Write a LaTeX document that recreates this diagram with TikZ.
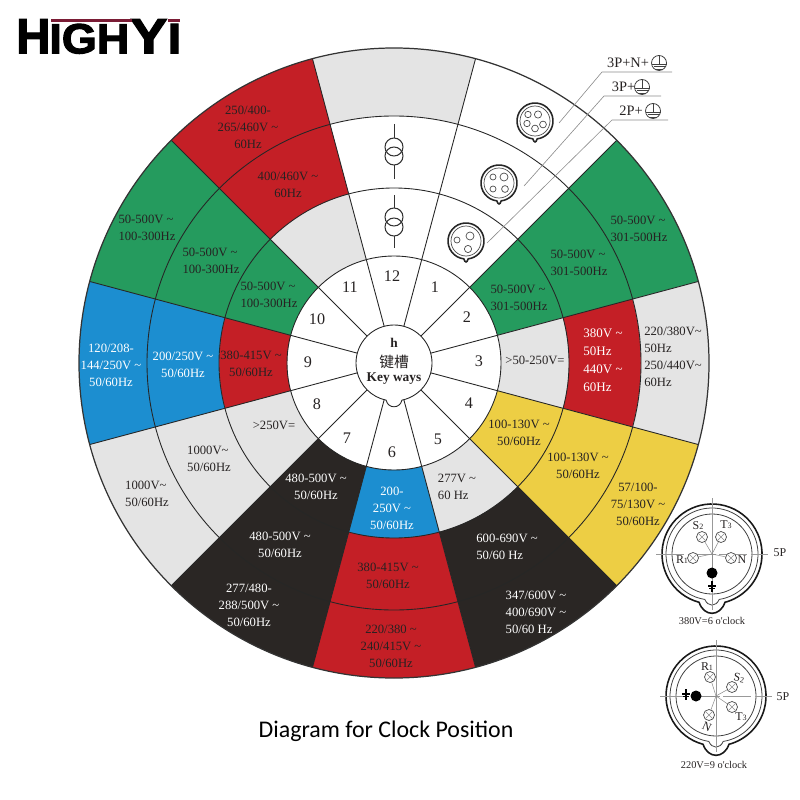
\documentclass[tikz,border=0pt]{standalone}
\usepackage{graphicx}
\usepackage{fontspec}
\setmainfont{Liberation Serif}
\newfontfamily\logofont[BoldFeatures={FakeBold=2.5}]{Liberation Sans}
\newfontfamily\cjkfont{Noto Sans CJK SC}
\newfontfamily\footfont{Carlito}
\definecolor{wheelgreen}{HTML}{259B5E}
\definecolor{wheelred}{HTML}{C41F26}
\definecolor{wheelblue}{HTML}{1C8ED0}
\definecolor{wheelgray}{HTML}{E4E4E4}
\definecolor{wheelyellow}{HTML}{EDCE44}
\definecolor{wheelblack}{HTML}{2A2624}
\definecolor{inkdark}{HTML}{262222}
\definecolor{logomaroon}{HTML}{7A1C35}
\newcommand{\ac}{\textasciitilde}
\newcommand{\tinydigit}[1]{{\fontsize{4.6}{5}\selectfont #1}}
\tikzset{
  lab/.style={font=\fontsize{7.2}{9.7}\selectfont, text=inkdark, inner sep=0pt, align=center},
  lableft/.style={lab, align=left},
  labwhite/.style={lab, text=white},
  labwhiteleft/.style={lableft, text=white},
  numlab/.style={font=\fontsize{9.2}{10}\selectfont, text=inkdark, inner sep=0pt},
  hublab/.style={font=\fontsize{7.6}{10}\bfseries\selectfont, text=inkdark, inner sep=0pt},
  plughead/.style={font=\fontsize{8.2}{10}\selectfont, text=inkdark, inner sep=0pt},
  pluglab/.style={font=\fontsize{6.8}{8}\selectfont, text=inkdark, inner sep=0pt},
  plugcap/.style={font=\fontsize{5.9}{8}\selectfont, text=inkdark, inner sep=0pt},
  wheelline/.style={draw=black!85, line width=.5pt},
  leader/.style={draw=black!45, line width=.35pt},
  crossline/.style={draw=black!40, line width=.35pt},
  logobox/.style={inner sep=0pt, anchor=north west, font=\logofont\bfseries},
}
\begin{document}
\begin{tikzpicture}[x=0.02cm,y=-0.02cm]
\useasboundingbox (0,0) rectangle (800,800);

% logo
\node[logobox] (logoh) at (16,19) {\resizebox{0.68cm}{0.68cm}{H}};
\node[logobox] (logoigh) at (49,23.5) {\resizebox{1.6cm}{0.59cm}{IGH}};
\node[logobox] (logoy) at (130,19) {\resizebox{0.74cm}{0.68cm}{Y}};
\node[logobox] (logoi) at (167.5,23.5) {\resizebox{0.27cm}{0.59cm}{I}};
\fill[logomaroon] (51,19.5) rectangle (132,22.2);
\fill[logomaroon] (168,19.5) rectangle (180,22.2);

% the wheel
\begin{scope}[shift={(394,363)},yscale=-1]
  \foreach \sa/\ra/\rb/\fc in {
    105/247/315/wheelgray,
    45/107/315/wheelgreen,
    15/107/175/wheelgray, 15/175/247/wheelred, 15/247/315/wheelgray,
    -15/107/315/wheelyellow,
    -45/107/175/wheelgray, -45/175/315/wheelblack,
    -75/107/175/wheelblue, -75/175/315/wheelred,
    -105/107/315/wheelblack,
    -135/107/315/wheelgray,
    195/107/175/wheelred, 195/175/315/wheelblue,
    165/107/315/wheelgreen,
    135/107/175/wheelgray, 135/175/315/wheelred} {
    \fill[\fc] (\sa:\ra) arc[start angle=\sa,end angle=\sa-30,radius=\ra]
      -- (\sa-30:\rb) arc[start angle=\sa-30,end angle=\sa,radius=\rb] -- cycle;
  }
  \foreach \a in {15,45,...,345} {
    \draw[wheelline] (\a:38) -- (\a:315);
  }
  \foreach \r in {107,175,247} {
    \draw[wheelline] (0,0) circle[radius=\r];
  }
  \draw[draw=black!80, line width=.7pt] (0,0) circle[radius=315];
  \draw[wheelline, fill=white] (-78:38) arc[start angle=-78,end angle=258,radius=38]
    .. controls (-6,-46) and (6,-46) .. cycle;
\end{scope}

% transformer marks
\foreach \ya/\yb/\yc/\yd in {124/147/156/179, 195/217/227/248} {
  \draw[black!80, line width=.5pt] (394,\ya) -- (394,\yb-9);
  \draw[black!80, line width=.5pt] (394,\yc+9) -- (394,\yd);
  \draw[black!80, line width=.6pt] (394,\yb) circle[radius=9];
  \draw[black!80, line width=.6pt] (394,\yc) circle[radius=9];
}

% sockets
\foreach \cx/\cy in {535/121, 499/183, 466/241} {
  \begin{scope}[shift={(\cx,\cy)}]
    \draw[black!85, line width=.9pt] (97:18) arc[start angle=97,end angle=443,radius=18]
      .. controls (1,22) and (-1,22) .. cycle;
    \draw[black!70, line width=.4pt] (0,0) circle[radius=15];
  \end{scope}
}
\foreach \px/\py/\pr in {538/114.5/3.6, 527/123.5/3.2, 543/124.5/3.4, 535/128.5/3.4, 528/114.5/3.2,
                         504/177/4, 493/177/3, 493/189/3, 505/189/3.4,
                         470/236/4, 457/240/3, 468/249/3.6} {
  \draw[black!70, line width=.4pt] (\px,\py) circle[radius=\pr];
}

% leader lines
\coordinate (lead1a) at (559,123);
\coordinate (lead1b) at (602,72);
\coordinate (lead1c) at (672,72);
\coordinate (lead2a) at (524,186);
\coordinate (lead2b) at (604,96);
\coordinate (lead2c) at (661,96);
\coordinate (lead3a) at (487,243);
\coordinate (lead3b) at (612,120);
\coordinate (lead3c) at (668,120);
\draw[leader] (lead1a) -- (lead1b) -- (lead1c);
\draw[leader] (lead2a) -- (lead2b) -- (lead2c);
\draw[leader] (lead3a) -- (lead3b) -- (lead3c);
\node[plughead] (head1) at (628,63) {3P+N+};
\node[plughead] (head2) at (623.5,87) {3P+};
\node[plughead] (head3) at (631,111) {2P+};
\foreach \ex/\ey in {659/63, 642/87, 653/111} {
  \begin{scope}[shift={(\ex,\ey)}]
    \draw[black!75, line width=.45pt] (0,0) circle[radius=7.5];
    \draw[black!75, line width=.45pt] (0,-7.5) -- (0,1) (-7.5,1) -- (7.5,1) (-5.5,3.5) -- (5.5,3.5) (-3,6) -- (3,6);
  \end{scope}
}

% clock numbers
\node[numlab] (n12) at (392,276) {12};
\node[numlab] (n1) at (435,287) {1};
\node[numlab] (n2) at (467,317) {2};
\node[numlab] (n3) at (479,361) {3};
\node[numlab] (n4) at (469,403) {4};
\node[numlab] (n5) at (438,439) {5};
\node[numlab] (n6) at (392,452) {6};
\node[numlab] (n7) at (347,438) {7};
\node[numlab] (n8) at (317,404) {8};
\node[numlab] (n9) at (308,362) {9};
\node[numlab] (n10) at (317,319) {10};
\node[numlab] (n11) at (350,287) {11};

% hub
\node[hublab] (hubh) at (394,343) {h};
\node[hublab] (hubcn) at (394,362) {\cjkfont\mdseries\fontsize{8.4}{10}\selectfont 键槽};
\node[hublab] (hubkey) at (394,379) {Key ways};

% sector texts
\node[lab] (s11c) at (248,127) {250/400-\\265/460V \ac\\60Hz};
\node[lab] (s11b) at (288,185) {400/460V \ac\\60Hz};
\node[lableft] (s10c) at (147,228) {50-500V \ac\\100-300Hz};
\node[lableft] (s10b) at (211,261) {50-500V \ac\\100-300Hz};
\node[lableft] (s10a) at (269,295) {50-500V \ac\\100-300Hz};
\node[labwhite] (s9c) at (111,365) {120/208-\\144/250V \ac\\50/60Hz};
\node[labwhite] (s9b) at (183,365) {200/250V \ac\\50/60Hz};
\node[lab] (s9a) at (251,364) {380-415V \ac\\50/60Hz};
\node[lableft] (s8c) at (147,494) {1000V\ac\\50/60Hz};
\node[lableft] (s8b) at (209,459) {1000V\ac\\50/60Hz};
\node[lab] (s8a) at (274,425) {>250V=};
\node[labwhite] (s7c) at (249,605) {277/480-\\288/500V \ac\\50/60Hz};
\node[labwhite] (s7b) at (280,545) {480-500V \ac\\50/60Hz};
\node[labwhite] (s7a) at (316,487) {480-500V \ac\\50/60Hz};
\node[labwhite] (s6a) at (392,508) {200-\\250V \ac\\50/60Hz};
\node[lab] (s6b) at (388,576) {380-415V \ac\\50/60Hz};
\node[lab] (s6c) at (391,646) {220/380 \ac\\240/415V \ac\\50/60Hz};
\node[lableft] (s5a) at (457,487) {277V \ac\\60 Hz};
\node[labwhiteleft] (s5b) at (507,547) {600-690V \ac\\50/60 Hz};
\node[labwhiteleft] (s5c) at (536,612) {347/600V \ac\\400/690V \ac\\50/60 Hz};
\node[lab] (s4a) at (519,433) {100-130V \ac\\50/60Hz};
\node[lab] (s4b) at (578,466) {100-130V \ac\\50/60Hz};
\node[lab] (s4c) at (638,504) {57/100-\\75/130V \ac\\50/60Hz};
\node[lab] (s3a) at (535,360) {>50-250V=};
\node[labwhiteleft, font=\fontsize{7.4}{10.2}\selectfont] (s3b) at (603,360) {380V \ac\\50Hz\\440V \ac\\60Hz};
\node[lableft] (s3c) at (673,357) {220/380V\ac\\50Hz\\250/440V\ac\\60Hz};
\node[lableft] (s2c) at (639,229) {50-500V \ac\\301-500Hz};
\node[lableft] (s2b) at (579,263) {50-500V \ac\\301-500Hz};
\node[lableft] (s2a) at (519,298) {50-500V \ac\\301-500Hz};

% plugs
\foreach \cx/\cy in {712/554, 716/696} {
  \begin{scope}[shift={(\cx,\cy)}]
    \draw[black!90, line width=.9pt] (105:50) arc[start angle=105,end angle=435,radius=50]
      .. controls (8,63) and (-8,63) .. cycle;
    \draw[black!75, line width=.45pt] (99:46) arc[start angle=99,end angle=441,radius=46]
      .. controls (4,53) and (-4,53) .. cycle;
    \draw[black!75, line width=.45pt] (0,0) circle[radius=40];
    \draw[crossline, dash pattern=on 16pt off 2pt] (-56,0) -- (56,0);
    \draw[crossline] (0,-56) -- (0,56);
  \end{scope}
}
\foreach \cx/\cy/\px/\py in {712/554/702/537, 712/554/721/537, 712/554/693/558, 712/554/731/558, 712/554/712/573,
                             716/696/710/677, 716/696/732/687, 716/696/732/707, 716/696/709/715, 716/696/696/696} {
  \draw[black!45, line width=.3pt] (\cx,\cy) -- (\px,\py);
}
\foreach \px/\py in {702/537, 721/537, 693/558, 731/558, 710/677, 732/687, 732/707, 709/715} {
  \begin{scope}[shift={(\px,\py)}]
    \draw[black!70, fill=white, line width=.4pt] (0,0) circle[radius=5.5];
    \draw[black!45, line width=.3pt] (-4,-4) -- (4,4) (-4,4) -- (4,-4);
  \end{scope}
}
\fill[black] (712,573) circle[radius=5.5];
\fill[black] (696,696) circle[radius=5.5];
\foreach \ex/\ey in {712/581, 686/689} {
  \draw[black, line width=.8pt] (\ex,\ey) -- (\ex,\ey+11) (\ex-4,\ey+5) -- (\ex+4,\ey+5) (\ex-3,\ey+7.5) -- (\ex+3,\ey+7.5);
}
\node[pluglab] (p1s) at (698,526) {S\tinydigit{2}};
\node[pluglab] (p1t) at (726,525) {T\tinydigit{3}};
\node[pluglab] (p1r) at (682,560) {R\tinydigit{1}};
\node[pluglab] (p1n) at (742,560) {N};
\node[pluglab] (p1v) at (780,553) {5P};
\node[plugcap] (p1cap) at (712,621) {380V=6 o\textquotesingle clock};
\node[pluglab] (p2r) at (707,667) {R\tinydigit{1}};
\node[pluglab, rotate=-10] (p2s) at (739,678) {S\tinydigit{2}};
\node[pluglab] (p2t) at (741,717) {T\tinydigit{3}};
\node[pluglab, rotate=-25] (p2n) at (707,727) {N};
\node[pluglab] (p2v) at (783,697) {5P};
\node[plugcap] (p2cap) at (714,765) {220V=9 o\textquotesingle clock};

% caption
\node[inner sep=0pt, font=\footfont\fontsize{13.6}{16}\selectfont] (caption) at (386,731) {Diagram for Clock Position};
\end{tikzpicture}
\end{document}
